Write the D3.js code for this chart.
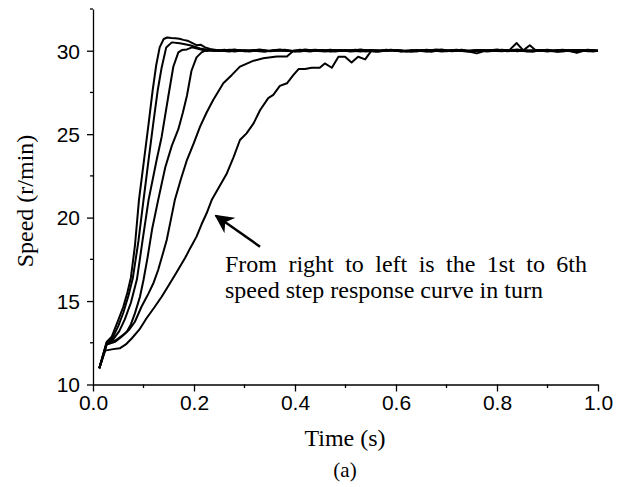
<!DOCTYPE html>
<html lang="en">
<head>
<meta charset="UTF-8">
<title>Speed step response</title>
<script src="https://cdn.jsdelivr.net/npm/d3@7"></script>
<style>
    body { margin: 0; background: #fff; }
    .tick-label { font: 21px "Liberation Sans", Arial, sans-serif; fill: #000; }
    .serif { font-family: "Liberation Serif", "Times New Roman", serif; fill: #000; }
    .curve { fill: none; stroke: #000; stroke-width: 2; stroke-linejoin: round; }
</style>
</head>
<body>
<svg id="chart" width="628" height="487"></svg>
<script>
// data, [time (s), speed (r/min)]
var curve1 = [[0.0125,10.97],[0.024,12.03],[0.04,12.12],[0.053,12.17],[0.065,12.4],[0.077,12.77],[0.092,13.3],[0.106,13.97],[0.121,14.6],[0.136,15.26],[0.15,15.95],[0.165,16.7],[0.182,17.56],[0.193,18.2],[0.205,18.86],[0.215,19.6],[0.225,20.26],[0.235,21.05],[0.25,21.85],[0.265,22.65],[0.278,23.6],[0.291,24.65],[0.304,25.05],[0.318,25.65],[0.331,26.45],[0.347,27.16],[0.357,27.35],[0.37,27.89],[0.384,28.05],[0.397,28.55],[0.407,28.9],[0.42,28.9],[0.433,28.98],[0.449,28.98],[0.459,29.24],[0.473,28.98],[0.486,29.64],[0.499,29.64],[0.512,29.3],[0.525,29.64],[0.539,29.48],[0.552,30.04],[0.565,29.95],[0.58,30.06],[0.6,30.0],[0.62,29.96],[0.64,30.05],[0.66,30.0],[0.68,30.08],[0.7,29.98],[0.72,30.02],[0.74,29.95],[0.76,30.04],[0.78,30.0],[0.8,30.07],[0.82,29.97],[0.84,30.03],[0.86,29.96],[0.88,30.05],[0.9,30.0],[0.92,29.94],[0.94,30.04],[0.96,30.0],[0.98,30.06],[1.0,29.98]];
var curve2 = [[0.0125,10.97],[0.027,12.4],[0.045,12.65],[0.06,12.97],[0.072,13.3],[0.083,13.76],[0.096,14.66],[0.11,15.46],[0.12,16.1],[0.129,16.86],[0.138,17.8],[0.146,18.66],[0.154,19.85],[0.162,21.05],[0.174,22.3],[0.186,23.45],[0.2,24.5],[0.212,25.45],[0.225,26.3],[0.238,27.05],[0.258,28.05],[0.275,28.55],[0.291,29.05],[0.317,29.39],[0.337,29.55],[0.364,29.65],[0.384,29.65],[0.397,30.0],[0.41,30.06],[0.43,29.98],[0.45,30.04],[0.47,29.95],[0.49,30.03],[0.51,30.0],[0.53,30.08],[0.55,29.97],[0.57,30.02],[0.59,30.05],[0.61,29.96],[0.63,30.03],[0.65,30.0],[0.67,29.94],[0.69,30.05],[0.71,30.0],[0.73,30.06],[0.75,29.97],[0.77,30.0],[0.79,30.04],[0.81,29.98],[0.825,30.05],[0.839,30.46],[0.852,30.02],[0.865,30.33],[0.878,29.98],[0.89,30.04],[0.91,30.0],[0.93,29.96],[0.95,30.05],[0.97,29.99],[0.985,30.04],[1.0,30.0]];
var curve3 = [[0.0125,10.97],[0.02,11.7],[0.027,12.4],[0.044,12.56],[0.056,12.85],[0.067,13.16],[0.075,13.6],[0.083,14.26],[0.093,15.26],[0.1,16.26],[0.108,17.6],[0.117,19.3],[0.129,21.05],[0.143,23.0],[0.156,24.3],[0.169,25.3],[0.178,26.3],[0.186,27.3],[0.195,28.8],[0.205,29.6],[0.215,29.9],[0.225,30.04],[0.24,29.98],[0.26,30.06],[0.28,29.96],[0.3,30.03],[0.32,30.0],[0.34,29.94],[0.36,30.05],[0.38,30.0],[0.4,29.97],[0.42,30.07],[0.44,30.0],[0.46,29.95],[0.48,30.04],[0.5,30.0],[0.52,30.06],[0.54,29.96],[0.56,30.02],[0.58,30.0],[0.6,30.05],[0.62,29.97],[0.64,30.02],[0.66,29.95],[0.68,30.04],[0.7,30.0],[0.72,30.06],[0.74,29.98],[0.76,29.84],[0.78,30.02],[0.8,30.0],[0.82,30.05],[0.84,29.97],[0.86,30.03],[0.88,30.0],[0.9,30.06],[0.92,29.96],[0.94,30.02],[0.958,29.87],[0.975,30.03],[1.0,30.0]];
var curve4 = [[0.0125,10.97],[0.02,11.75],[0.027,12.45],[0.04,12.7],[0.052,13.2],[0.063,13.9],[0.075,14.9],[0.087,16.3],[0.098,18.6],[0.11,21.05],[0.126,23.45],[0.136,24.85],[0.149,27.24],[0.159,29.04],[0.169,29.9],[0.176,30.04],[0.186,30.08],[0.196,30.2],[0.21,30.1],[0.225,29.98],[0.24,30.05],[0.26,30.0],[0.28,30.08],[0.3,29.97],[0.32,30.04],[0.34,29.98],[0.36,30.0],[0.38,30.06],[0.4,29.95],[0.42,30.02],[0.44,30.06],[0.46,30.0],[0.48,29.96],[0.5,30.04],[0.52,29.98],[0.54,30.03],[0.56,29.94],[0.58,30.0],[0.6,30.04],[0.62,30.0],[0.64,29.96],[0.66,30.06],[0.68,30.0],[0.7,29.97],[0.72,30.03],[0.74,30.0],[0.76,30.05],[0.78,29.96],[0.8,30.02],[0.82,30.0],[0.84,30.08],[0.86,29.98],[0.88,30.03],[0.9,29.95],[0.92,30.04],[0.94,30.0],[0.96,30.05],[0.98,29.97],[1.0,30.02]];
var curve5 = [[0.0125,10.97],[0.02,11.75],[0.027,12.5],[0.038,12.75],[0.05,13.5],[0.06,14.3],[0.07,15.3],[0.079,16.4],[0.09,18.6],[0.1,21.05],[0.11,23.45],[0.12,25.8],[0.128,27.6],[0.136,29.0],[0.145,30.2],[0.156,30.5],[0.172,30.45],[0.192,30.33],[0.212,30.13],[0.23,30.05],[0.25,29.98],[0.27,30.06],[0.29,30.0],[0.31,29.95],[0.33,30.04],[0.35,30.0],[0.37,30.07],[0.39,29.98],[0.41,30.02],[0.43,29.95],[0.45,30.05],[0.47,30.0],[0.49,30.03],[0.51,29.96],[0.53,30.0],[0.55,30.05],[0.57,29.98],[0.59,30.03],[0.61,30.0],[0.63,29.94],[0.65,30.04],[0.67,30.0],[0.69,30.07],[0.71,29.97],[0.73,30.02],[0.75,29.96],[0.77,30.04],[0.79,30.0],[0.81,30.06],[0.83,29.98],[0.85,30.02],[0.87,29.96],[0.89,30.05],[0.91,30.0],[0.93,30.03],[0.95,29.95],[0.97,30.04],[0.99,30.0],[1.0,29.98]];
var curve6 = [[0.0125,10.97],[0.02,11.8],[0.027,12.55],[0.037,12.86],[0.05,13.86],[0.06,14.66],[0.068,15.5],[0.075,16.4],[0.083,18.3],[0.091,21.05],[0.101,23.45],[0.11,25.6],[0.118,27.6],[0.125,29.1],[0.132,30.2],[0.14,30.7],[0.147,30.79],[0.155,30.76],[0.163,30.75],[0.171,30.72],[0.179,30.65],[0.187,30.6],[0.197,30.45],[0.205,30.33],[0.213,30.36],[0.222,30.2],[0.232,30.1],[0.25,30.02],[0.27,29.96],[0.29,30.05],[0.31,30.0],[0.33,30.08],[0.35,29.97],[0.37,30.02],[0.39,30.0],[0.41,29.95],[0.43,30.04],[0.45,30.0],[0.47,30.06],[0.49,29.98],[0.51,30.02],[0.53,29.95],[0.55,30.03],[0.57,30.0],[0.59,30.06],[0.61,29.97],[0.63,30.02],[0.65,30.0],[0.67,30.05],[0.69,29.96],[0.71,30.03],[0.73,30.0],[0.75,29.95],[0.77,30.04],[0.79,30.0],[0.81,29.97],[0.83,30.05],[0.85,30.0],[0.87,29.96],[0.89,30.03],[0.91,30.0],[0.93,30.06],[0.95,29.98],[0.97,30.02],[0.99,29.96],[1.0,30.0]];
var curves = [curve1, curve2, curve3, curve4, curve5, curve6];

var xTicks = [0.0, 0.2, 0.4, 0.6, 0.8, 1.0];
var xMinor = [0.1, 0.3, 0.5, 0.7, 0.9];
var yTicks = [10, 15, 20, 25, 30];
var yMinor = [12.5, 17.5, 22.5, 27.5, 32.5];

var xTitle = "Time (s)";
var yTitle = "Speed (r/min)";
var caption = "(a)";
var noteLines = ["From right to left is the 1st to 6th", "speed step response curve in turn"];
// annotation anchors in data units
var noteAt = [0.2614, 16.76];
var arrowTail = [0.3307, 18.26];
var arrowTip = [0.2436, 20.11];

var svg = d3.select("#chart");
svg.append("rect").attr("width", 628).attr("height", 487).attr("fill", "#fff");

var xs = d3.scaleLinear().domain([0, 1]).range([93, 598]);
var ys = d3.scaleLinear().domain([10, 32.5]).range([384.5, 9]);

// x axis: major + minor ticks, outward
var gx = svg.append("g").attr("transform", "translate(0," + ys(10) + ")");
gx.call(d3.axisBottom(xs).tickValues(xTicks).tickSize(7).tickSizeOuter(0).tickFormat(d3.format(".1f")));
gx.call(function(g) {
    g.append("g").selectAll("line").data(xMinor).join("line")
        .attr("x1", function(d) { return xs(d); }).attr("x2", function(d) { return xs(d); })
        .attr("y1", 0).attr("y2", 3.5).attr("stroke", "#000").attr("stroke-width", 1.3);
});

var gy = svg.append("g").attr("transform", "translate(" + xs(0) + ",0)");
gy.call(d3.axisLeft(ys).tickValues(yTicks).tickSize(6).tickSizeOuter(0).tickFormat(d3.format("d")));
gy.call(function(g) {
    g.append("g").selectAll("line").data(yMinor).join("line")
        .attr("y1", function(d) { return ys(d); }).attr("y2", function(d) { return ys(d); })
        .attr("x1", 0).attr("x2", -3).attr("stroke", "#000").attr("stroke-width", 1.3);
});

svg.selectAll(".domain").attr("stroke", "#000").attr("stroke-width", 1.3);
svg.selectAll(".tick line").attr("stroke", "#000").attr("stroke-width", 1.3);
gx.selectAll(".tick text").attr("class", "tick-label").attr("y", 11).attr("dy", "0.71em");
gy.selectAll(".tick text").attr("class", "tick-label").attr("x", -13).attr("dy", "0.35em");

// curves
var line = d3.line()
    .x(function(d) { return xs(d[0]); })
    .y(function(d) { return ys(d[1]); });

svg.append("g").selectAll("path").data(curves).join("path")
    .attr("class", "curve")
    .attr("d", line);

// titles
svg.append("text").attr("class", "serif")
    .attr("x", 345).attr("y", 446)
    .attr("text-anchor", "middle").style("font-size", "24px")
    .text(xTitle);

svg.append("text").attr("class", "serif")
    .attr("transform", "translate(33," + 201 + ") rotate(-90)")
    .attr("text-anchor", "middle").style("font-size", "24px")
    .text(yTitle);

svg.append("text").attr("class", "serif")
    .attr("x", 345).attr("y", 477)
    .attr("text-anchor", "middle").style("font-size", "21px")
    .text(caption);

// annotation text, first line justified to a fixed width
var note = svg.append("g");
var t1 = note.append("text").attr("class", "serif").style("font-size", "24px")
    .attr("x", xs(noteAt[0])).attr("y", ys(noteAt[1])).text(noteLines[0]);
var t2 = note.append("text").attr("class", "serif").style("font-size", "24px")
    .attr("x", xs(noteAt[0])).attr("y", ys(noteAt[1]) + 26).text(noteLines[1]);
var targetW = 362;
var natural = t1.node().getComputedTextLength();
var gaps = noteLines[0].split(" ").length - 1;
if (natural < targetW) t1.attr("word-spacing", (targetW - natural) / gaps);

// arrow
svg.append("defs").append("marker")
    .attr("id", "head").attr("viewBox", "0 0 10 10")
    .attr("refX", 9).attr("refY", 5)
    .attr("markerWidth", 7.5).attr("markerHeight", 7.5)
    .attr("markerUnits", "strokeWidth")
    .attr("orient", "auto")
    .append("path").attr("d", "M0,0 L10,5 L0,10 L3,5 Z").attr("fill", "#000");

svg.append("line")
    .attr("x1", xs(arrowTail[0])).attr("y1", ys(arrowTail[1]))
    .attr("x2", xs(arrowTip[0])).attr("y2", ys(arrowTip[1]))
    .attr("stroke", "#000").attr("stroke-width", 2.5)
    .attr("marker-end", "url(#head)");
</script>
</body>
</html>
